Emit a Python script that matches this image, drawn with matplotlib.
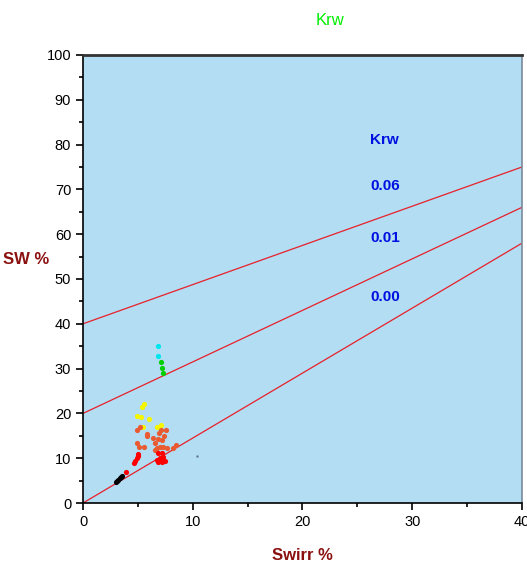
import numpy as np
import matplotlib.pyplot as plt

plt.rcParams['font.family'] = ['Liberation Sans', 'DejaVu Sans']

# Krw iso-lines: SW intercept at Swirr=0 and value at Swirr=40
krw_labels = ['0.06', '0.01', '0.00']
krw_y0 = [40, 20, 0]
krw_y40 = [75, 66, 58]
krw_label_y = [70.8, 59.2, 46.0]

# sample points (Swirr %, SW %) grouped by colour
cyan_x = [6.80, 6.86]
cyan_y = [35.0, 32.8]
green_x = [7.10, 7.17, 7.30]
green_y = [31.5, 30.2, 29.1]
yellow_x = [5.56, 5.40, 4.92, 5.30, 6.00, 5.43, 6.74, 7.10, 6.90]
yellow_y = [22.2, 21.5, 19.5, 19.3, 18.8, 17.0, 17.0, 17.5, 17.0]
tomato_x = [4.89, 5.20, 5.80, 5.85, 6.34, 6.92, 7.07, 7.56, 4.95, 5.13, 5.58,
            6.56, 6.86, 6.70, 7.00, 7.30, 7.68, 8.47, 8.20, 6.56, 7.20, 7.40]
tomato_y = [16.3, 16.9, 15.0, 15.4, 14.6, 15.6, 16.3, 16.3, 13.3, 12.6, 12.6,
            13.3, 14.4, 12.2, 12.6, 12.6, 12.2, 12.9, 12.2, 11.8, 14.0, 15.0]
red_x = [5.04, 4.89, 4.64, 3.92, 6.86, 7.17, 7.30, 7.00, 6.86, 7.17, 7.47,
         6.75, 5.00, 4.75]
red_y = [10.9, 10.0, 8.9, 7.0, 11.1, 11.2, 10.3, 10.0, 9.2, 9.1, 9.4,
         9.6, 10.5, 9.4]
black_x = [2.97, 3.10, 3.22, 3.35, 3.47, 3.58]
black_y = [4.6, 4.9, 5.2, 5.5, 5.8, 6.1]
grey_x = [10.35]
grey_y = [10.5]

fig = plt.figure(figsize=(5.27, 5.65), dpi=100)
ax = fig.add_axes([0.1575, 0.1097, 0.833, 0.793])
ax.set_facecolor('#b2ddf3')

xs = np.array([0, 40])
for y0, y40 in zip(krw_y0, krw_y40):
    ax.plot(xs, [y0, y40], color='#e8202a', lw=0.9, zorder=2)

ms = 14
ax.scatter(cyan_x, cyan_y, s=ms, color='#00e5ee', zorder=3, lw=0)
ax.scatter(green_x, green_y, s=ms, color='#00d000', zorder=3, lw=0)
ax.scatter(yellow_x, yellow_y, s=ms, color='#f5f500', zorder=3, lw=0)
ax.scatter(tomato_x, tomato_y, s=ms, color='#ea5a30', zorder=3, lw=0)
ax.scatter(red_x, red_y, s=ms, color='#ff0000', zorder=3, lw=0)
ax.scatter(black_x, black_y, s=ms, color='black', zorder=3, lw=0)
ax.scatter(grey_x, grey_y, s=3, color='#607890', zorder=3, lw=0)

ax.text(27.5, 81, 'Krw', color='#0010e0', fontsize=11, fontweight='bold',
        ha='center', va='center')
for lab, ly in zip(krw_labels, krw_label_y):
    ax.text(27.5, ly, lab, color='#0010e0', fontsize=11, fontweight='bold',
            ha='center', va='center')

ax.set_xlim(0, 40)
ax.set_ylim(0, 100)
ax.set_xticks(np.arange(0, 41, 10))
ax.set_xticks(np.arange(5, 40, 10), minor=True)
ax.set_yticks(np.arange(0, 101, 10))
ax.set_yticks(np.arange(5, 100, 10), minor=True)
ax.tick_params(which='major', direction='out', length=5, width=1.2,
               labelsize=10.5)
ax.tick_params(which='minor', direction='out', length=3, width=1.2)

ax.spines['left'].set_linewidth(1.2)
ax.spines['bottom'].set_linewidth(1.2)
ax.spines['top'].set_linewidth(2)
ax.spines['top'].set_color('#333333')
ax.spines['right'].set_linewidth(1.2)
ax.spines['right'].set_color('#7a8a99')

ax.set_xlabel('Swirr %', color='#8b1010', fontsize=12, fontweight='bold',
              labelpad=14)
ax.set_ylabel('SW %', color='#8b1010', fontsize=12, fontweight='bold',
              rotation=0, labelpad=0)
ax.yaxis.set_label_coords(-0.13, 0.527)

fig.text(0.627, 0.963, 'Krw', color='#00ee00', fontsize=12, ha='center',
         va='center')

fig.savefig('out.png', dpi=100)
